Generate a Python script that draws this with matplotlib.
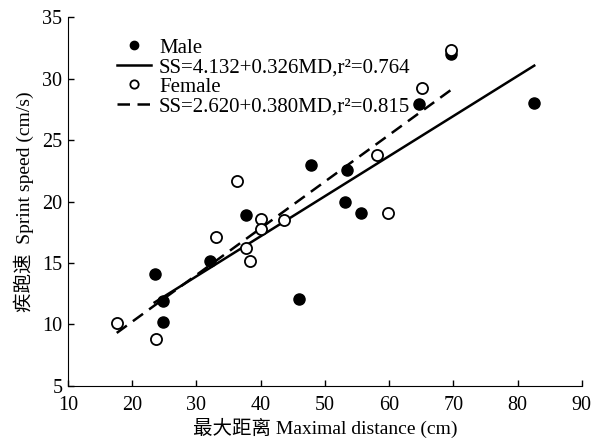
import matplotlib as mpl

mpl.use('Agg')
import matplotlib.pyplot as plt
import numpy as np

plt.rcParams['font.family'] = ['Liberation Serif', 'Noto Sans CJK SC']
plt.rcParams['font.size'] = 14

# male: maximal distance (cm), sprint speed (cm/s)
male_md = [23.5, 24.8, 24.8, 32.1, 37.8, 45.9, 47.9, 53.4, 53.1, 55.6, 64.7, 69.7, 82.6]
male_ss = [14.1, 11.9, 10.2, 15.2, 18.9, 12.1, 23.0, 22.6, 20.0, 19.1, 27.9, 32.0, 28.0]

# female
female_md = [17.6, 23.7, 33.0, 36.4, 37.7, 38.3, 40.0, 40.0, 43.6, 58.1, 59.8, 65.1, 69.7]
female_ss = [10.1, 8.8, 17.1, 21.7, 16.2, 15.2, 18.6, 17.8, 18.5, 23.8, 19.1, 29.2, 32.3]

# regression coefficients (intercept, slope)
male_fit = (4.132, 0.326)
female_fit = (2.620, 0.380)
male_label = 'SS=4.132+0.326MD,r\u00b2=0.764'
female_label = 'SS=2.620+0.380MD,r\u00b2=0.815'

fig = plt.figure(figsize=(6.01, 4.41), dpi=100)
ax = fig.add_axes([0.113, 0.125, 0.855, 0.836])

ax.plot(male_md, male_ss, 'o', color='black', markersize=8, label='Male', zorder=3)
xm = np.array([min(male_md), max(male_md)])
ax.plot(xm, male_fit[0] + male_fit[1] * xm, '-', color='black', lw=1.8, label=male_label)

ax.plot(female_md, female_ss, 'o', mfc='white', mec='black', mew=1.3, markersize=8,
        label='Female', zorder=4)
xf = np.array([min(female_md), max(female_md)])
ax.plot(xf, female_fit[0] + female_fit[1] * xf, '--', color='black', lw=1.8,
        dashes=(5, 3), label=female_label)

ax.set_xlim(10, 90)
ax.set_ylim(5, 35)
ax.set_xticks(np.arange(10, 91, 10))
ax.set_yticks(np.arange(5, 36, 5))
ax.spines['top'].set_visible(False)
ax.spines['right'].set_visible(False)
ax.tick_params(direction='in', length=4, width=1, labelsize=14.5)
ax.tick_params(axis='x', pad=7)
ax.tick_params(axis='y', pad=4)

ax.set_xlabel('最大距离 Maximal distance (cm)', fontsize=14, labelpad=2)
ax.set_ylabel('疾跑速  Sprint speed (cm/s)', fontsize=14, labelpad=6)

ax.legend(loc='upper left', bbox_to_anchor=(0.076, 0.972), frameon=False,
          handlelength=1.6, handletextpad=0.4, labelspacing=0.0,
          borderpad=0, markerscale=0.75, fontsize=15)

plt.savefig('out.png', dpi=100)
